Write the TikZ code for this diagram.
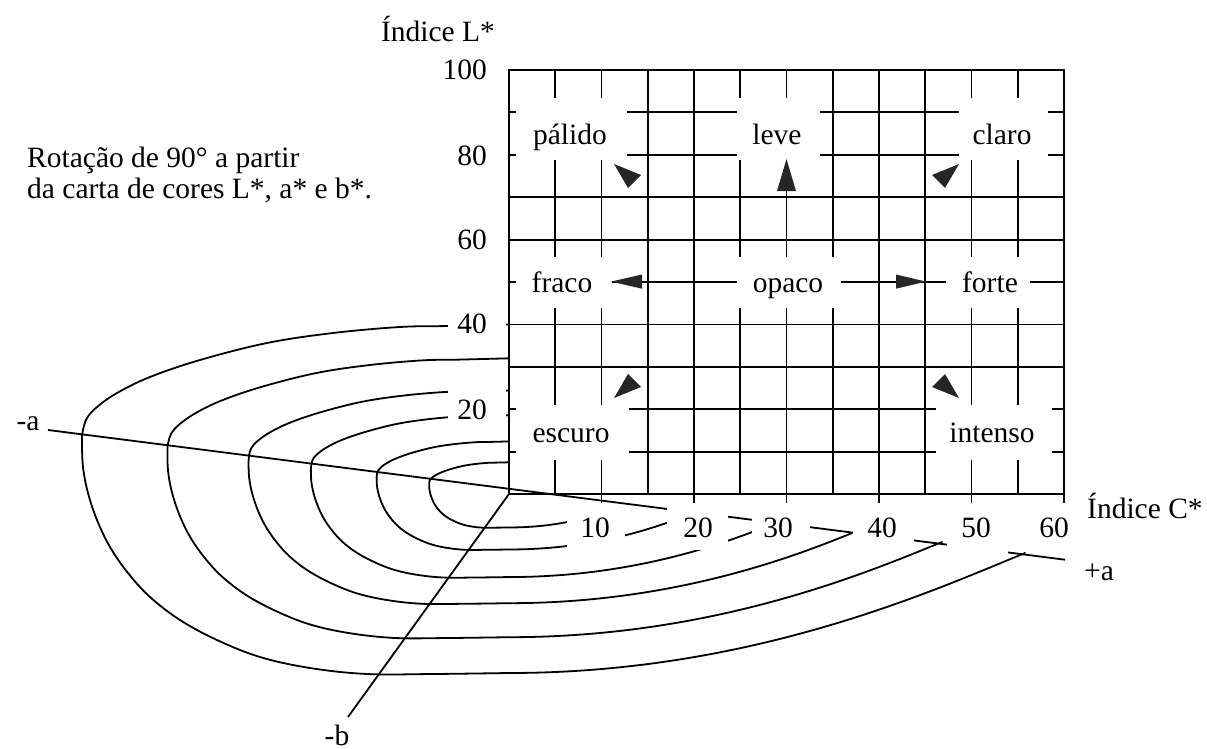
\documentclass[tikz,border=0pt]{standalone}
\usepackage{fontspec}
\setmainfont{Liberation Serif}
\begin{document}
\begin{tikzpicture}[x=1pt,y=-1pt,
  gridline/.style={line width=1.8pt},
  curve/.style={line width=1.8pt, line cap=round},
  axisline/.style={line width=1.8pt},
  txt/.style={font=\fontsize{29.5}{35}\selectfont, inner sep=0pt, anchor=base},
  mask/.style={fill=white, draw=none},
  head/.style={fill=black!85, draw=none}]
\useasboundingbox (0,0) rectangle (1207,749);
\fill[white] (0,0) rectangle (1207,749);
\coordinate (O) at (509,494);
\coordinate (Aminus) at (48,430);
\coordinate (Aplus) at (1065,559.7);
\coordinate (Bminus) at (348,717);

% ---- a*b* plane curves
\foreach \s/\ex/\ey in {0.187/602/512, 0.31/690/514, 0.464/775/523, 0.61/852/533, 0.80/942/542, 1/1025/553} {
  \begin{scope}[shift={(509,494)}, scale=\s]
    \draw[curve] plot[smooth, tension=0.6] coordinates {(15,-170) (-62,-168) (-109,-167) (-176,-161) (-242,-151) (-309,-134) (-359,-117) (-392,-101) (-412,-87) (-422,-76) (-426,-64) (-427,-54) (-426,-27) (-421,-1) (-412,26) (-399,53) (-381,79) (-359,103) (-329,126) (-292,146) (-249,163) (-199,174) (-142,180) (-76,180) (0,179)};
  \end{scope}
  \pgfmathsetmacro\yb{494+179*\s}
  \pgfmathsetmacro\W{\ex-509}
  \draw[curve] (509,\yb) .. controls ({509+0.467*\W},\yb) and ({\ex-0.184*\W},{\ey+0.0756*\W}) .. (\ex,\ey);
}

% ---- vertical L*-C* chart
\fill[white] (509,70) rectangle (1064,494);
\foreach \c in {1,...,11} \draw[gridline] ({509+46.25*\c},70) -- ({509+46.25*\c},494);
\foreach \r in {1,...,9} \draw[gridline] (509,{70+42.4*\r}) -- (1064,{70+42.4*\r});
% label clearings
\fill[mask] (516,98) rectangle (627,160);
\fill[mask] (737,98) rectangle (820,160);
\fill[mask] (959,98) rectangle (1048,160);
\fill[mask] (516,257) rectangle (612,308);
\fill[mask] (737,257) rectangle (841,308);
\fill[mask] (946,257) rectangle (1030,308);
\fill[mask] (516,405) rectangle (629,460);
\fill[mask] (936,405) rectangle (1052,460);
\draw[gridline] (509,70) rectangle (1064,494);
\foreach \c in {2,4,...,12} \draw[gridline] ({509+46.25*\c},494) -- ({509+46.25*\c},503);

% arrowheads
\fill[head] (614,164) -- (641,175) -- (628,188) -- cycle;
\fill[head] (959,164) -- (932,175) -- (945,188) -- cycle;
\fill[head] (614,398) -- (641,387) -- (628,374) -- cycle;
\fill[head] (959,398) -- (932,387) -- (945,374) -- cycle;
\fill[head] (786.5,159) -- (777,191) -- (796,191) -- cycle;
\fill[head] (611,281.6) -- (642,274.5) -- (642,288.7) -- cycle;
\fill[head] (926,281.6) -- (896,274.5) -- (896,288.7) -- cycle;

% axes a and b
\draw[axisline] (Aminus) -- (Aplus);
\draw[axisline] (O) -- (Bminus);

% masks behind the numbers
\fill[mask] (567,508) rectangle (625,552);
\fill[mask] (667,506) rectangle (728,550);
\fill[mask] (752,513) rectangle (810,545);
\fill[mask] (853,523) rectangle (914,545);
\fill[mask] (947,533) rectangle (1008,556);
\fill[mask] (448,305) rectangle (506,345);
\fill[mask] (448,378) rectangle (506,428);

% ---- texts
\node[txt] (tL) at (438,42) {Índice L*};
\node[txt, anchor=base east] (y100) at (487,80) {100};
\node[txt, anchor=base east] (y80) at (487,165) {80};
\node[txt, anchor=base east] (y60) at (487,249) {60};
\node[txt, anchor=base east] (y40) at (487,333) {40};
\node[txt, anchor=base east] (y20) at (487,419) {20};
\node[txt, anchor=base west] (rot1) at (27,167) {Rotação de 90° a partir};
\node[txt, anchor=base west] (rot2) at (27,198) {da carta de cores L*, a* e b*.};

\node[txt] (palido) at (570,144) {pálido};
\node[txt] (leve) at (777,144) {leve};
\node[txt] (claro) at (1002,144) {claro};
\node[txt] (fraco) at (562,292) {fraco};
\node[txt] (opaco) at (788,292) {opaco};
\node[txt] (forte) at (990,292) {forte};
\node[txt] (escuro) at (571,442) {escuro};
\node[txt] (intenso) at (992,442) {intenso};

\node[txt] (c10) at (595,537) {10};
\node[txt] (c20) at (698,537) {20};
\node[txt] (c30) at (778,537) {30};
\node[txt] (c40) at (882,537) {40};
\node[txt] (c50) at (976,537) {50};
\node[txt] (c60) at (1054,537) {60};
\node[txt, anchor=base west] (tC) at (1087,518) {Índice C*};
\node[txt] (pa) at (1099,580) {+a};
\node[txt] (ma) at (28,430) {-a};
\node[txt] (mb) at (337,745) {-b};
\end{tikzpicture}
\end{document}
